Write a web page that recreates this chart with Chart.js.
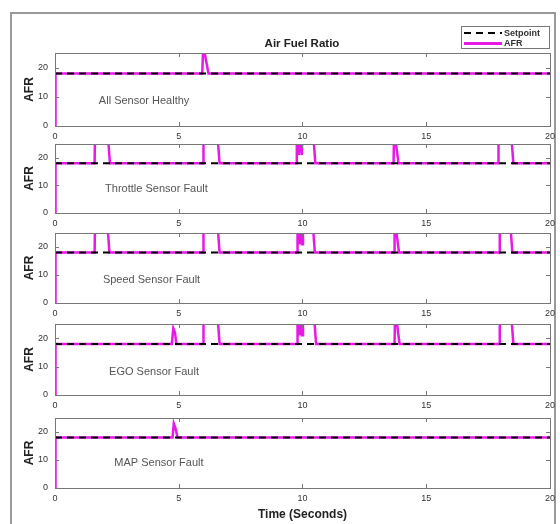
<!DOCTYPE html>
<html>
<head>
<meta charset="utf-8">
<script src="https://cdn.jsdelivr.net/npm/chart.js@4.4.1/dist/chart.umd.min.js"></script>
<style>
  body { margin: 0; background: #fff; font-family: "Liberation Sans", Arial, sans-serif; }
  #fig { position: relative; width: 560px; height: 524px; overflow: hidden; background: #fff; }
  #frame { position: absolute; left: 10px; top: 12px; width: 546px; height: 530px; border: 2px solid #9a9a9a; box-sizing: border-box; }
  canvas { position: absolute; left: 0; }
  #title { position: absolute; left: 202px; width: 200px; top: 37px; text-align: center; font-weight: bold; font-size: 11.5px; color: #222; }
  #legend { position: absolute; left: 461px; top: 26px; width: 89px; height: 23px; border: 1px solid #777; background: #fff; box-sizing: border-box; font-size: 9px; font-weight: bold; color: #333; }
  .row { position: absolute; left: 2px; height: 10px; }
  .sample { position: absolute; left: 0; width: 38px; }
  .row span { position: absolute; left: 40px; top: 0; line-height: 10px; }
</style>
</head>
<body>
<div id="fig">
  <div id="frame"></div>
  <canvas id="c1" width="560" height="102" style="top:40px"></canvas>
  <canvas id="c2" width="560" height="98" style="top:131px"></canvas>
  <canvas id="c3" width="560" height="99" style="top:220px"></canvas>
  <canvas id="c4" width="560" height="100" style="top:311px"></canvas>
  <canvas id="c5" width="560" height="117" style="top:405px"></canvas>
  <div id="title">Air Fuel Ratio</div>
  <div id="legend">
    <div class="row" style="top:1px">
      <div class="sample" style="top:4px;height:2px;background:repeating-linear-gradient(90deg,#000 0 7px,transparent 7px 12px)"></div>
      <span>Setpoint</span>
    </div>
    <div class="row" style="top:11px">
      <div class="sample" style="top:4px;height:3px;background:#e619e6"></div>
      <span>AFR</span>
    </div>
  </div>
</div>
<script>
// axis ticks
const timeTicks = [0, 5, 10, 15, 20];
const afrTicks = [0, 10, 20];

// setpoint line
const setpointTime = [0, 20];
const setpointAfr = [18, 18];

// AFR responses (values above 25 are clipped by the axes)
const healthyTime = [0, 0.02, 5.95, 6.0, 6.05, 6.2, 20];
const healthyAfr  = [0, 18, 18, 30, 25, 18, 18];

const throttleTime = [0, 0.02, 1.6, 1.62, 2.12, 2.22, 5.98, 6.0, 6.55, 6.65, 9.75, 9.77, 9.85, 9.9, 9.97, 10.0, 10.42, 10.52, 13.68, 13.7, 13.78, 13.88, 17.9, 17.92, 18.42, 18.52, 20];
const throttleAfr  = [0, 18, 18, 30, 30, 18, 18, 30, 30, 18, 18, 30, 21, 30, 21, 30, 30, 18, 18, 30, 25, 18, 18, 30, 30, 18, 18];

const speedTime = [0, 0.02, 1.6, 1.62, 2.1, 2.2, 5.98, 6.0, 6.55, 6.65, 9.78, 9.8, 9.88, 9.92, 9.98, 10.02, 10.4, 10.5, 13.7, 13.72, 13.8, 13.9, 17.95, 17.97, 18.38, 18.48, 20];
const speedAfr  = [0, 18, 18, 30, 30, 18, 18, 30, 30, 18, 18, 30, 21, 30, 21, 30, 30, 18, 18, 30, 25, 18, 18, 30, 30, 18, 18];

const egoTime = [0, 0.02, 4.72, 4.78, 4.85, 4.9, 5.98, 6.0, 6.55, 6.65, 9.78, 9.8, 9.88, 9.92, 9.98, 10.02, 10.45, 10.55, 13.72, 13.74, 13.82, 13.92, 17.95, 17.97, 18.42, 18.52, 20];
const egoAfr  = [0, 18, 18, 23.5, 22, 18, 18, 30, 30, 18, 18, 30, 21, 30, 21, 30, 30, 18, 18, 30, 25, 18, 18, 30, 30, 18, 18];

const mapTime = [0, 0.02, 4.75, 4.8, 4.88, 4.95, 20];
const mapAfr  = [0, 18, 18, 23, 21, 18, 18];

const panelLabels = ['All Sensor Healthy', 'Throttle Sensor Fault', 'Speed Sensor Fault', 'EGO Sensor Fault', 'MAP Sensor Fault'];

const magenta = '#e619e6';

function toPoints(xs, ys) {
  return xs.map((x, i) => ({ x: x, y: ys[i] }));
}

// draws the box, the inward ticks and the panel caption
const panelBox = {
  id: 'panelBox',
  afterDraw(chart, args, opts) {
    const ctx = chart.ctx;
    const a = chart.chartArea;
    const xs = chart.scales.x, ys = chart.scales.y;
    ctx.save();
    ctx.strokeStyle = '#777';
    ctx.lineWidth = 1;
    ctx.strokeRect(a.left + 0.5, a.top + 0.5, a.right - a.left, a.bottom - a.top);
    ctx.beginPath();
    timeTicks.forEach(v => {
      const px = Math.round(xs.getPixelForValue(v)) + 0.5;
      ctx.moveTo(px, a.bottom); ctx.lineTo(px, a.bottom - 4);
      ctx.moveTo(px, a.top); ctx.lineTo(px, a.top + 4);
    });
    afrTicks.forEach(v => {
      const py = Math.round(ys.getPixelForValue(v)) + 0.5;
      ctx.moveTo(a.left, py); ctx.lineTo(a.left + 4, py);
      ctx.moveTo(a.right, py); ctx.lineTo(a.right - 4, py);
    });
    ctx.stroke();
    ctx.fillStyle = '#555';
    ctx.font = '11px "Liberation Sans", Arial, sans-serif';
    ctx.textAlign = 'center';
    ctx.textBaseline = 'middle';
    ctx.fillText(opts.text, xs.getPixelForValue(opts.at[0]), ys.getPixelForValue(opts.at[1]));
    ctx.restore();
  }
};

function createPanel(id, time, afr, label, at, isLast) {
  return new Chart(document.getElementById(id), {
    type: 'line',
    data: {
      datasets: [
        {
          label: 'Setpoint',
          data: toPoints(setpointTime, setpointAfr),
          borderColor: '#000',
          borderWidth: 2,
          borderDash: [7, 5],
          pointRadius: 0
        },
        {
          label: 'AFR',
          data: toPoints(time, afr),
          borderColor: magenta,
          borderWidth: 2.5,
          pointRadius: 0
        }
      ]
    },
    options: {
      responsive: false,
      animation: false,
      layout: { padding: { left: 21, right: 10, top: 13, bottom: 0 } },
      elements: { line: { tension: 0 } },
      scales: {
        x: {
          type: 'linear',
          min: 0,
          max: 20,
          grid: { display: false, drawTicks: false },
          border: { display: false },
          afterBuildTicks: s => { s.ticks = timeTicks.map(v => ({ value: v })); },
          afterFit: s => { s.height = isLast ? 34 : 16; },
          ticks: { color: '#333', padding: 5, maxRotation: 0, font: { size: 9, family: '"Liberation Sans", Arial' } },
          title: {
            display: isLast,
            text: 'Time (Seconds)',
            color: '#222',
            padding: 0,
            font: { size: 12, weight: 'bold', family: '"Liberation Sans", Arial' }
          }
        },
        y: {
          min: 0,
          max: 25,
          grid: { display: false, drawTicks: false },
          border: { display: false },
          afterBuildTicks: s => { s.ticks = afrTicks.map(v => ({ value: v })); },
          afterFit: s => { s.width = 34; },
          ticks: { color: '#333', padding: 7, font: { size: 9, family: '"Liberation Sans", Arial' } },
          title: {
            display: true,
            text: 'AFR',
            color: '#222',
            padding: 1,
            font: { size: 12, weight: 'bold', family: '"Liberation Sans", Arial' }
          }
        }
      },
      plugins: {
        legend: { display: false },
        tooltip: { enabled: false },
        panelBox: { text: label, at: at }
      }
    },
    plugins: [panelBox]
  });
}

createPanel('c1', healthyTime, healthyAfr, panelLabels[0], [3.6, 8.5], false);
createPanel('c2', throttleTime, throttleAfr, panelLabels[1], [4.1, 8.7], false);
createPanel('c3', speedTime, speedAfr, panelLabels[2], [3.9, 8.2], false);
createPanel('c4', egoTime, egoAfr, panelLabels[3], [4.0, 8.1], false);
createPanel('c5', mapTime, mapAfr, panelLabels[4], [4.2, 8.9], true);
</script>
</body>
</html>
